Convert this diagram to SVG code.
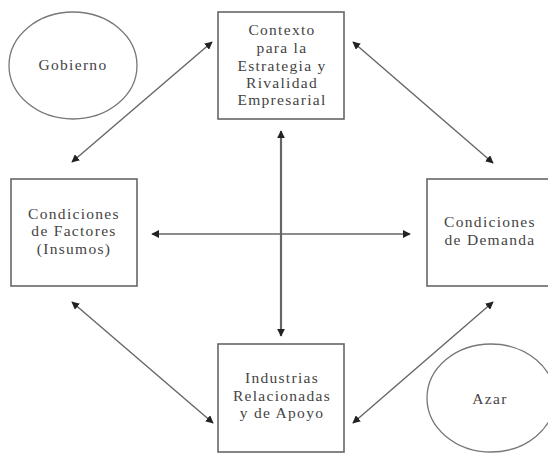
<svg xmlns="http://www.w3.org/2000/svg" width="548" height="453" viewBox="0 0 548 453">
<style>
.box{fill:#fff;stroke:#666;stroke-width:1.6}
.ell{fill:#fff;stroke:#777;stroke-width:1.3}
.t{font-family:"Liberation Serif","Times New Roman",serif;font-size:15.5px;fill:#444;text-anchor:middle;letter-spacing:1.3px}
.c{stroke:#666;stroke-width:1.4;fill:none;marker-start:url(#a);marker-end:url(#a)}
.v{stroke-width:2.2}
</style>
<defs>
<marker id="a" viewBox="0 0 10 10" refX="9" refY="5" markerWidth="8" markerHeight="8" markerUnits="userSpaceOnUse" orient="auto-start-reverse">
<path d="M0,0 L10,5 L0,10 z" fill="#222"/>
</marker>
</defs>
<rect width="548" height="453" fill="#fff"/>
<g id="connectors">
<line class="c" x1="72" y1="162" x2="212" y2="42"/>
<line class="c" x1="353" y1="42" x2="493" y2="163"/>
<line class="c" x1="72" y1="302" x2="213" y2="423"/>
<line class="c" x1="493" y1="302" x2="353" y2="423"/>
<line class="c" x1="152" y1="234" x2="410" y2="234"/>
<line class="c v" x1="281" y1="131" x2="281" y2="336"/>
</g>
<g id="gobierno">
<ellipse class="ell" cx="73" cy="65.5" rx="64" ry="53.5"/>
<text class="t" x="73" y="70">Gobierno</text>
</g>
<g id="contexto">
<rect class="box" x="218" y="12" width="126" height="107"/>
<text class="t" x="282" y="35">Contexto</text>
<text class="t" x="282" y="53">para la</text>
<text class="t" x="282" y="71">Estrategia y</text>
<text class="t" x="282" y="88">Rivalidad</text>
<text class="t" x="282" y="105">Empresarial</text>
</g>
<g id="factores">
<rect class="box" x="11" y="179" width="126" height="107"/>
<text class="t" x="74" y="219">Condiciones</text>
<text class="t" x="74" y="236">de Factores</text>
<text class="t" x="74" y="254">(Insumos)</text>
</g>
<g id="demanda">
<rect class="box" x="427" y="179" width="126" height="107"/>
<text class="t" x="490" y="227">Condiciones</text>
<text class="t" x="490" y="245">de Demanda</text>
</g>
<g id="industrias">
<rect class="box" x="218" y="344" width="126" height="108"/>
<text class="t" x="282" y="383">Industrias</text>
<text class="t" x="282" y="401">Relacionadas</text>
<text class="t" x="282" y="418">y de Apoyo</text>
</g>
<g id="azar">
<ellipse class="ell" cx="491" cy="398" rx="64" ry="54"/>
<text class="t" x="490" y="404">Azar</text>
</g>
</svg>
